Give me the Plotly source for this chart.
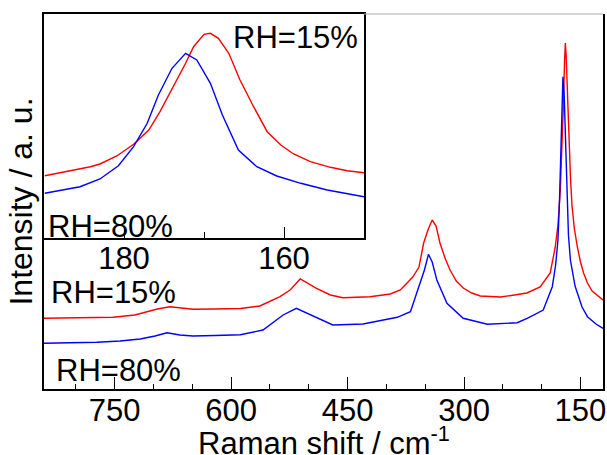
import plotly.graph_objects as go

# ---- main spectra (Raman shift, intensity a.u.) ----
red_x = [841, 807, 773, 752, 724, 695, 679, 666, 649, 621, 588, 563, 537, 524, 511, 490, 472, 456,
         421, 395, 382, 366, 358, 352, 346, 341, 336, 331, 324, 318, 310, 301, 290, 279, 253, 235,
         219, 202, 189, 182.5, 179, 176, 174, 172, 170.5, 169.5, 168.5, 167, 165, 163, 161, 158,
         154, 150, 146, 141, 135, 128, 121]
red_y = [70.7, 71, 71, 71.7, 74, 80, 82.3, 81, 79.7, 80, 80.5, 83, 92.3, 99, 110, 100.7, 94, 91.3,
         92.3, 95, 99, 112, 122, 146, 160, 169, 163, 146, 130, 119, 108, 101, 96, 93, 92, 94,
         96, 102, 116, 142, 164, 199, 234, 284, 329, 346, 334, 299, 254, 214, 184, 161,
         142, 127, 116, 106, 98, 93, 89]

blue_x = [841, 807, 773, 743, 717, 698, 682.5, 666, 649, 621, 588, 559, 533, 516, 498, 469, 430,
          386, 369, 356.5, 351, 345.8, 341, 335, 322, 301, 270, 231.5, 218.6, 198, 186.3, 182,
          179, 177, 175.5, 174, 172.6, 171, 169, 167, 165.5, 163, 160, 157, 154, 148, 141, 130, 121]
blue_y = [45.7, 46, 46.7, 48, 50, 53, 56.3, 54, 53, 53.5, 54.3, 59, 74, 80.7, 74, 64, 65,
          71.7, 77.3, 105, 119, 134.7, 127, 109, 85.7, 70.7, 64.7, 66.3, 70.7, 79, 102.3, 124,
          149, 189, 239, 279, 312.3, 294, 249, 199, 154, 129, 114, 103, 96, 82, 72.3, 65, 60.7]

# ---- inset spectra ----
in_red_x = [189.9, 187.2, 184.2, 183, 180.9, 178.8, 176.9, 175.5, 173.8, 172.3, 171.3, 170,
            169.2, 168.2, 166.9, 165.5, 163.8, 162.1, 160.4, 158.8, 156.7, 154.2, 152.1, 150]
in_red_y = [62, 66, 71, 73.7, 81.7, 93.4, 107.7, 126, 151, 174.4, 191, 203.4,
            204.4, 199.4, 184.4, 157.7, 131, 106, 92.7, 83.7, 76, 70.4, 67, 65]
in_blue_x = [189.9, 185.5, 183, 180.7, 178.8, 177.1, 175.7, 174, 172.3, 170.9, 169.2, 167.7,
             165.7, 163.4, 160.9, 157.9, 154.6, 150]
in_blue_y = [44.4, 51, 58.7, 72, 91, 114.4, 142.7, 169.4, 184.4, 177.7, 154.4, 122.7,
             87.7, 71, 61.7, 54.4, 47.7, 41]

main_ticks = [750, 600, 450, 300, 150]
inset_ticks = [180, 160]
x_title = "Raman shift / cm<sup>-1</sup>"
y_title = "Intensity / a. u."

RED = "#ff0000"
BLUE = "#0000ff"
FONT = "Liberation Sans, Arial, sans-serif"

fig = go.Figure()
fig.add_trace(go.Scatter(x=red_x, y=red_y, mode="lines", line=dict(color=RED, width=1.4),
                         xaxis="x", yaxis="y", showlegend=False))
fig.add_trace(go.Scatter(x=blue_x, y=blue_y, mode="lines", line=dict(color=BLUE, width=1.4),
                         xaxis="x", yaxis="y", showlegend=False))
fig.add_trace(go.Scatter(x=in_red_x, y=in_red_y, mode="lines", line=dict(color=RED, width=1.4),
                         xaxis="x2", yaxis="y2", showlegend=False))
fig.add_trace(go.Scatter(x=in_blue_x, y=in_blue_y, mode="lines", line=dict(color=BLUE, width=1.4),
                         xaxis="x2", yaxis="y2", showlegend=False))

W, H = 607, 455
ml, mr, mt, mb = 44, 4, 14, 66
pw, ph = W - ml - mr, H - mt - mb
inset_right = (364 - ml) / pw
inset_bottom = (389 - 237.7) / ph

fig.update_layout(
    width=W, height=H,
    margin=dict(l=ml, r=mr, t=mt, b=mb, autoexpand=False),
    paper_bgcolor="white", plot_bgcolor="white",
    font=dict(family=FONT, size=31, color="black"),
    xaxis=dict(domain=[0, 1], range=[841, 121], showline=True, linecolor="black", linewidth=1.5,
               mirror=False, ticks="inside", ticklen=12, tickwidth=1.2, tickcolor="black",
               tickvals=main_ticks, showgrid=False, zeroline=False, automargin=False,
               ticklabelstandoff=-7,
               minor=dict(ticks="inside", ticklen=5, dtick=50, tick0=0, tickcolor="black", tickwidth=1.2),
               tickfont=dict(size=31)),
    yaxis=dict(domain=[0, 1], range=[0, 375], showline=True, linecolor="black", linewidth=1.5,
               mirror=True, ticks="", showticklabels=False, showgrid=False, zeroline=False,
               automargin=False,
               title=dict(text=y_title, font=dict(size=32), standoff=0)),
    xaxis2=dict(domain=[0, inset_right], anchor="y2", range=[190, 150], showline=True,
                linecolor="black", linewidth=1.5, mirror=True, ticks="inside", ticklen=11,
                tickwidth=1.2, tickcolor="black", tickvals=inset_ticks, showgrid=False, zeroline=False,
                automargin=False, ticklabelstandoff=-8,
                minor=dict(ticks="inside", ticklen=6, dtick=10, tick0=0, tickcolor="black", tickwidth=1.2),
                tickfont=dict(size=31)),
    yaxis2=dict(domain=[inset_bottom, 1], anchor="x2", range=[0, 223.7], showline=True,
                linecolor="black", linewidth=1.5, mirror=True, ticks="", showticklabels=False,
                showgrid=False, zeroline=False, automargin=False),
    shapes=[dict(type="line", xref="paper", yref="paper", x0=inset_right, x1=1, y0=1, y1=1,
                 line=dict(color="#aaaaaa", width=1.2))],
)

def px2paper(px, py):
    return (px - ml) / pw, (389 - py) / ph

labels = [("RH=15%", 295, 37.5), ("RH=80%", 110, 226), ("RH=15%", 113, 292.5), ("RH=80%", 118, 370)]
for txt, px, py in labels:
    xp, yp = px2paper(px, py)
    fig.add_annotation(text=txt, x=xp, y=yp, xref="paper", yref="paper", showarrow=False,
                       xanchor="center", yanchor="middle", font=dict(size=31, family=FONT))

# x-axis title
xp, yp = px2paper(323.5, 441)
fig.add_annotation(text=x_title, x=xp, y=yp, xref="paper", yref="paper", showarrow=False,
                   xanchor="center", yanchor="middle", font=dict(size=31, family=FONT))

fig.write_html("out.html", config={"displayModeBar": False},
               post_script="document.body.style.margin='0';document.body.style.overflow='hidden';")
